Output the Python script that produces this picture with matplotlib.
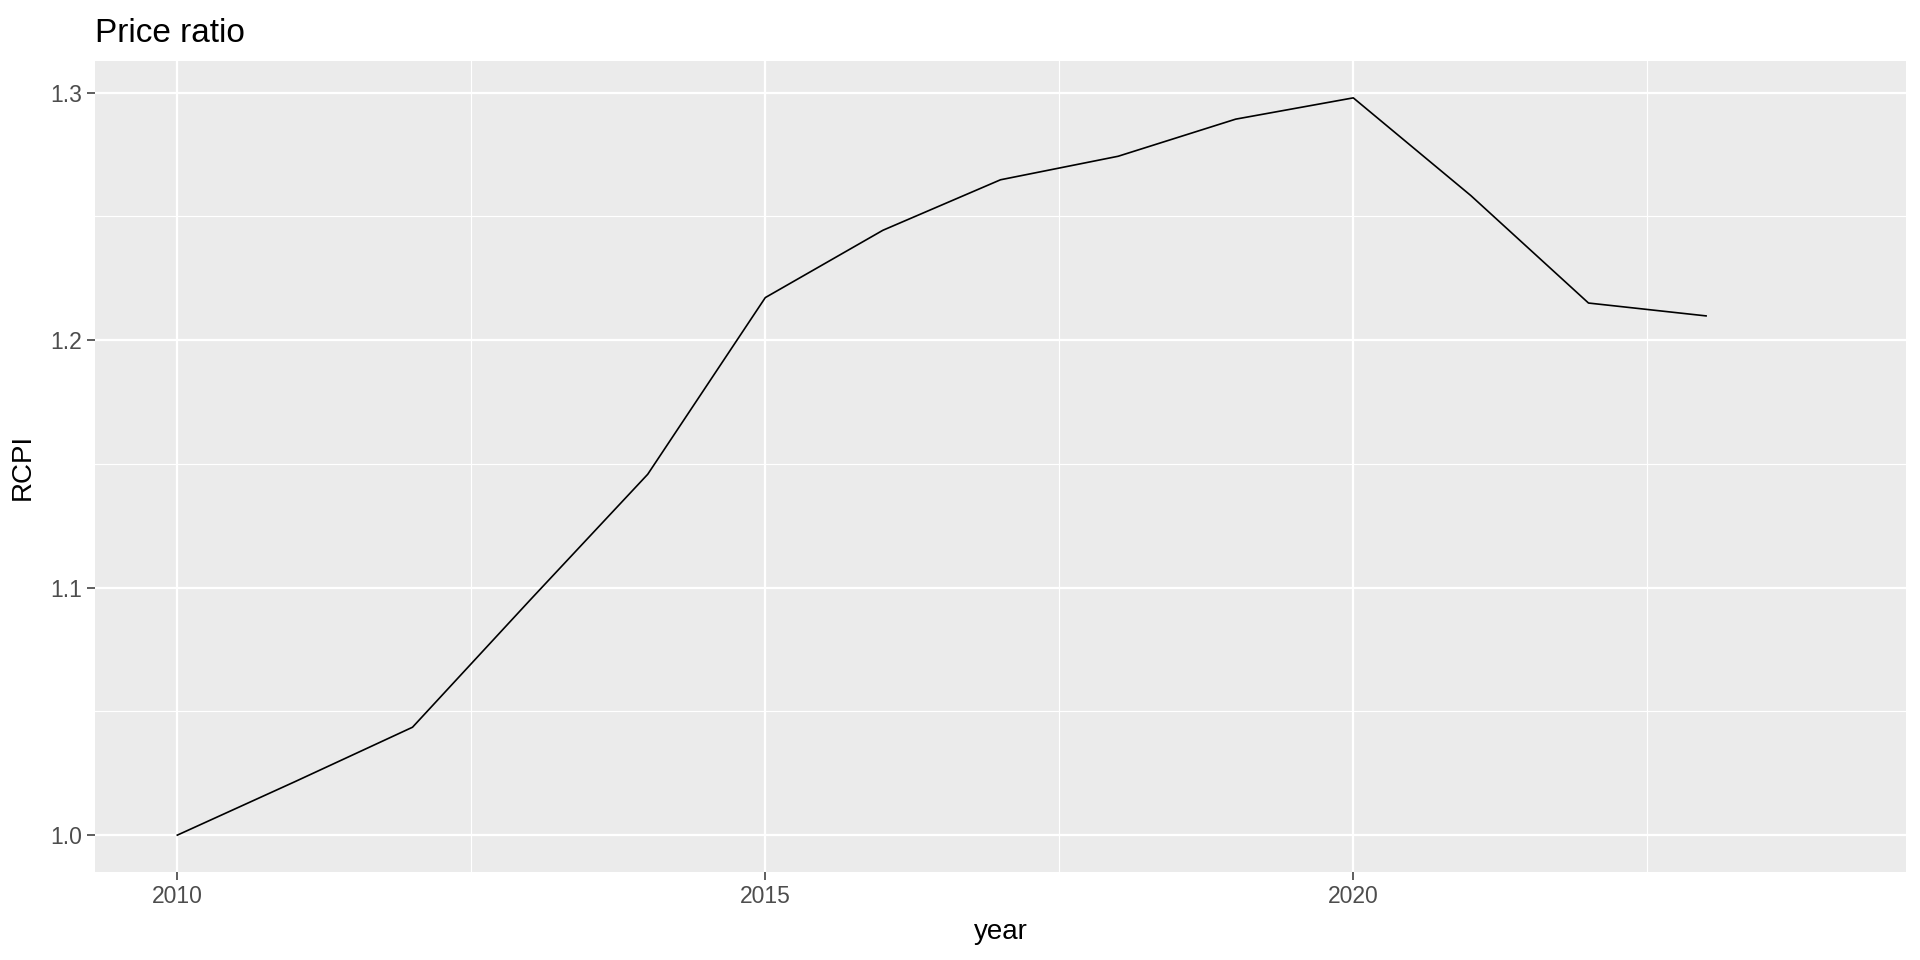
import matplotlib
matplotlib.use("Agg")
import matplotlib.pyplot as plt
import numpy as np

# data (2024 has no value, but sets the x range)
years = [2010, 2011, 2012, 2013, 2014, 2015, 2016, 2017, 2018, 2019, 2020, 2021, 2022, 2023, 2024]
rcpi = [1.000, 1.0216, 1.0436, 1.095, 1.1458, 1.2172, 1.2444, 1.2648,
        1.2743, 1.2893, 1.2979, 1.2584, 1.2150, 1.2098, np.nan]

x_major = [2010, 2015, 2020]
x_minor = [2012.5, 2017.5, 2022.5]
y_major = [1.0, 1.1, 1.2, 1.3]
y_minor = [1.05, 1.15, 1.25]

plt.rcParams['font.family'] = ['Liberation Sans', 'DejaVu Sans']

fig = plt.figure(figsize=(19.2, 9.6), dpi=100)
ax = fig.add_axes([95 / 1920, 1 - 872 / 960, (1906 - 95) / 1920, (872 - 61) / 960])
ax.set_facecolor('#EBEBEB')

ax.plot(years, rcpi, color='black', linewidth=1.2, zorder=3)

# ggplot style expansion
xr = max(years) - min(years)
ymin, ymax = np.nanmin(rcpi), np.nanmax(rcpi)
yr = ymax - ymin
ax.set_xlim(min(years) - 0.05 * xr, max(years) + 0.05 * xr)
ax.set_ylim(ymin - 0.05 * yr, ymax + 0.05 * yr)

ax.set_xticks(x_major)
ax.set_xticks(x_minor, minor=True)
ax.set_yticks(y_major)
ax.set_yticks(y_minor, minor=True)
ax.set_xticklabels([str(v) for v in x_major])
ax.set_yticklabels([f'{v:.1f}' for v in y_major])

ax.grid(which='major', color='white', linewidth=1.6, zorder=0)
ax.grid(which='minor', color='white', linewidth=0.8, zorder=0)
ax.set_axisbelow(True)
for s in ax.spines.values():
    s.set_visible(False)

ax.tick_params(which='major', length=5.5, width=1.1, color='#333333',
               labelcolor='#4D4D4D', labelsize=16.5, pad=4)
ax.tick_params(which='minor', length=0)

ax.set_xlabel('year', fontsize=20, labelpad=8)
ax.set_ylabel('RCPI', fontsize=20, labelpad=10)
fig.text(95 / 1920, 1 - 42 / 960, 'Price ratio', fontsize=24, ha='left', va='baseline')

fig.savefig('out.png', dpi=100)
